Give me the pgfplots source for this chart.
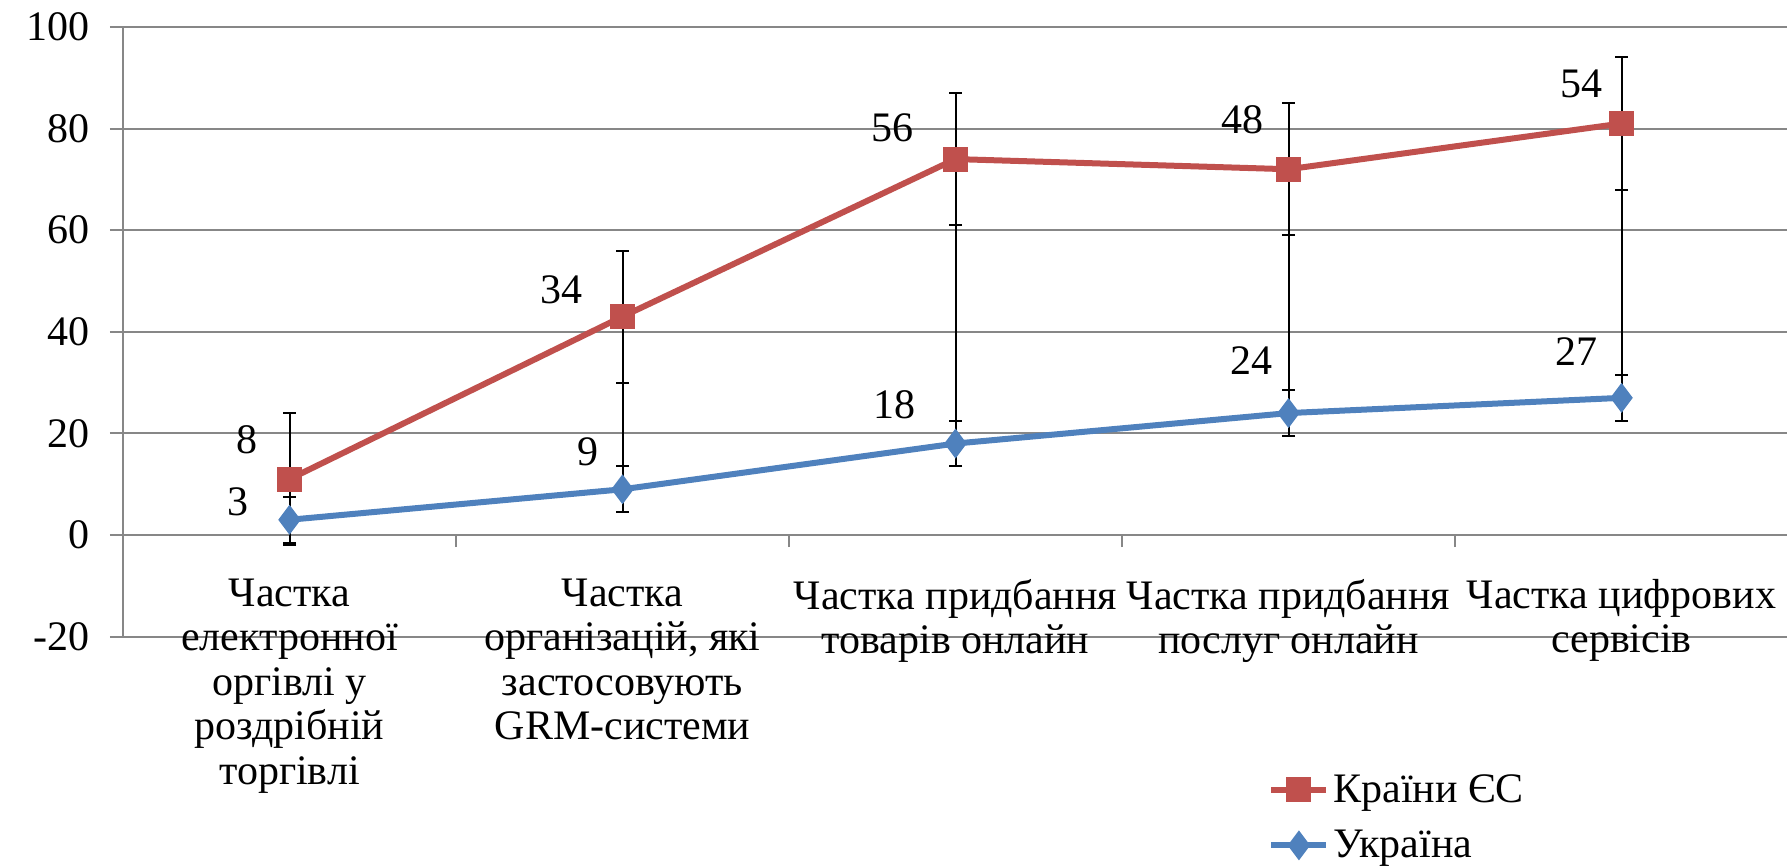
\documentclass[border=0pt]{standalone}
\usepackage{fontspec}
\setmainfont{Liberation Serif}
\usepackage{pgfplots}
\pgfplotsset{compat=1.18}
\definecolor{eured}{HTML}{C0504D}
\definecolor{uablue}{HTML}{4F81BD}
\definecolor{gridgray}{HTML}{878787}
\begin{document}
\begin{tikzpicture}[font=\fontsize{21}{22.2}\selectfont]
\begin{axis}[
  at={(0,0)}, anchor=south west,
  width=832.5pt, height=304.8pt, scale only axis,
  xmin=0, xmax=5, ymin=-20, ymax=100,
  axis x line=middle, axis y line=left,
  axis line style={-, gridgray, line width=1pt},
  hide obscured x ticks=false, hide obscured y ticks=false,
  ytick={-20,0,20,40,60,80,100},
  ymajorgrids, grid style={gridgray, line width=1pt},
  xtick={0.5,1.5,2.5,3.5,4.5},
  xticklabels={{Частка\\електронної\\оргівлі у\\роздрібній\\торгівлі},
               {Частка\\організацій, які\\застосовують\\GRM-системи},
               {Частка придбання\\товарів онлайн},
               {Частка придбання\\послуг онлайн},
               {Частка цифрових\\сервісів}},
  xticklabel style={align=center, font=\fontsize{21}{22.2}\selectfont, yshift=-12pt},
  yticklabel style={font=\fontsize{21}{22.2}\selectfont, xshift=-6.7pt},
  minor xtick={1,2,3,4},
  major x tick style={draw=none},
  minor x tick style={gridgray, line width=1pt},
  y tick style={gridgray, line width=1pt},
  tick align=outside,
  major tick length=6.5pt, minor tick length=6pt,
  /pgf/number format/assume math mode=true,
  clip=false,
  legend style={at={(0.6877,-0.2187)}, anchor=north west, draw=none, fill=none,
    font=\fontsize{21}{22.2}\selectfont, row sep=8.5pt, inner sep=0pt},
  legend cell align=left,
  legend image code/.code={\draw[mark repeat=2,mark phase=2,#1] plot coordinates {(0pt,0pt) (13.75pt,0pt) (27.5pt,0pt)};},
]
\addplot[eured, line width=3pt, mark=square*, mark size=4.75pt, mark options={solid},
  error bars/.cd, y dir=both, y explicit,
  error bar style={black, line width=1pt},
  error mark options={black, line width=1pt, mark size=3.25pt, rotate=90}]
  coordinates {(0.5,11) +- (0,13) (1.5,43) +- (0,13) (2.5,74) +- (0,13) (3.5,72) +- (0,13) (4.5,81) +- (0,13)};
\addlegendentry{Країни ЄС}
\addplot[uablue, line width=3pt, mark=diamond*, mark size=5pt, mark options={solid},
  error bars/.cd, y dir=both, y explicit,
  error bar style={black, line width=1pt},
  error mark options={black, line width=1pt, mark size=3.25pt, rotate=90}]
  coordinates {(0.5,3) +- (0,4.5) (1.5,9) +- (0,4.5) (2.5,18) +- (0,4.5) (3.5,24) +- (0,4.5) (4.5,27) +- (0,4.5)};
\addlegendentry{Україна}
% high-low lines
\addplot[forget plot, black, line width=1pt] coordinates {(0.5,3) (0.5,11)};
\addplot[forget plot, black, line width=1pt] coordinates {(1.5,9) (1.5,43)};
\addplot[forget plot, black, line width=1pt] coordinates {(2.5,18) (2.5,74)};
\addplot[forget plot, black, line width=1pt] coordinates {(3.5,24) (3.5,72)};
\addplot[forget plot, black, line width=1pt] coordinates {(4.5,27) (4.5,81)};
% data labels
\node at (axis cs:0.371,18.7) {8};
\node at (axis cs:1.317,48.2) {34};
\node at (axis cs:2.312,80.1) {56};
\node at (axis cs:3.363,81.7) {48};
\node at (axis cs:4.381,88.9) {54};
\node at (axis cs:0.345,6.5) {3};
\node at (axis cs:1.396,16.3) {9};
\node at (axis cs:2.318,25.6) {18};
\node at (axis cs:3.390,34.4) {24};
\node at (axis cs:4.365,36.1) {27};
\end{axis}
\pgfresetboundingbox
\path[use as bounding box] (-61.5pt,-115.2pt) rectangle (832pt,318.3pt);
\end{tikzpicture}
\end{document}
